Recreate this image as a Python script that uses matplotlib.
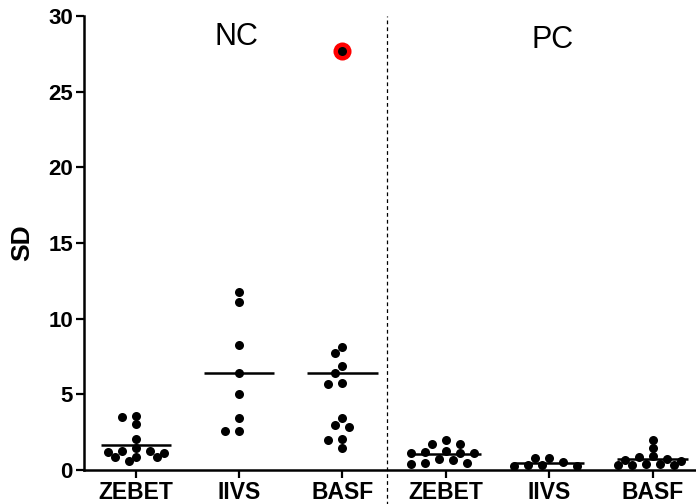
import numpy as np
import matplotlib.pyplot as plt

plt.rcParams['font.family'] = ['Liberation Sans', 'DejaVu Sans']

# groups on the x axis
groups = ['ZEBET', 'IIVS', 'BASF', 'ZEBET', 'IIVS', 'BASF']

# SD values per group (NC: first three, PC: last three)
zebet_nc = [3.59, 3.52, 3.02, 2.03, 1.28, 1.43, 0.88, 1.21, 0.59, 1.14, 0.84, 1.28, 0.88]
iivs_nc = [11.74, 11.12, 8.26, 6.39, 5.0, 3.46, 2.58, 2.58]
basf_nc = [27.7, 8.15, 7.71, 6.87, 6.39, 5.66, 5.77, 3.46, 2.97, 2.82, 2.03, 1.98, 1.43]
zebet_pc = [1.98, 1.70, 1.70, 1.21, 1.10, 1.25, 1.10, 1.10, 0.71, 0.48, 0.38, 0.48, 0.66]
iivs_pc = [0.25, 0.30, 0.77, 0.28, 0.50, 0.78, 0.30]
basf_pc = [2.0, 1.45, 0.65, 0.85, 0.35, 0.6, 0.3, 0.9, 0.4, 0.75, 0.4, 0.3]
all_groups = [zebet_nc, iivs_nc, basf_nc, zebet_pc, iivs_pc, basf_pc]

# flagged outlier (BASF, NC)
outlier = 27.7

fig = plt.figure(figsize=(6.96, 5.04), dpi=100)
ax = fig.add_axes([84 / 696, 34 / 504, 612 / 696, 454 / 504])
ax.set_xlim(0.5, 6.42)
ax.set_ylim(0, 30)

# pixels per data unit, needed for the swarm layout
xpx = 612 / (6.42 - 0.5)
ypx = 454 / 30


def swarm(vals, step=7.0, mind=8.2):
    # simple beeswarm: put each point as close to the centre as possible
    placed = []
    offs = []
    cands = [0.0] + [s * i * step for i in range(1, 30) for s in (-1, 1)]
    for v in vals:
        y = v * ypx
        for c in cands:
            if all((c - px) ** 2 + (y - py) ** 2 >= mind ** 2 for px, py in placed):
                break
        placed.append((c, y))
        offs.append(c / xpx)
    return np.array(offs)


for i, vals in enumerate(all_groups):
    pos = i + 1
    vals = np.array(vals)
    order = np.argsort(-vals, kind='stable')
    offs = np.zeros(len(vals))
    offs[order] = swarm(vals[order])
    xs = pos + offs
    if i == 2:
        # outlier shown in red with black dot
        k = int(np.argmin(np.abs(vals - outlier)))
        ax.scatter([xs[k]], [vals[k]], s=13 ** 2, color='red', zorder=3, clip_on=False, linewidths=0)
    ax.scatter(xs, vals, s=6.5 ** 2, color='black', zorder=4, clip_on=False, linewidths=0)
    ax.hlines(vals.mean(), pos - 0.34, pos + 0.34, color='black', lw=1.8, zorder=5)

# NC / PC separator
ax.axvline(3.43, ymin=-0.08, ymax=1.0, color='black', lw=0.9, ls=(0, (3, 2.5)), clip_on=False)

ax.text(1.97, 28.6, 'NC', fontsize=22, ha='center', va='center')
ax.text(5.03, 28.4, 'PC', fontsize=22, ha='center', va='center')

ax.set_xticks(range(1, 7))
ax.set_xticklabels(groups, fontsize=16.5, fontweight='bold')
ax.set_yticks(range(0, 31, 5))
ax.set_yticklabels([str(t) for t in range(0, 31, 5)], fontsize=16, fontweight='bold')
ax.set_ylabel('SD', fontsize=19, fontweight='bold', labelpad=10)

for s in ['top', 'right']:
    ax.spines[s].set_visible(False)
for s in ['left', 'bottom']:
    ax.spines[s].set_linewidth(1.8)
ax.tick_params(axis='both', width=1.6, length=6, pad=2)

fig.savefig('out.png', dpi=100)
